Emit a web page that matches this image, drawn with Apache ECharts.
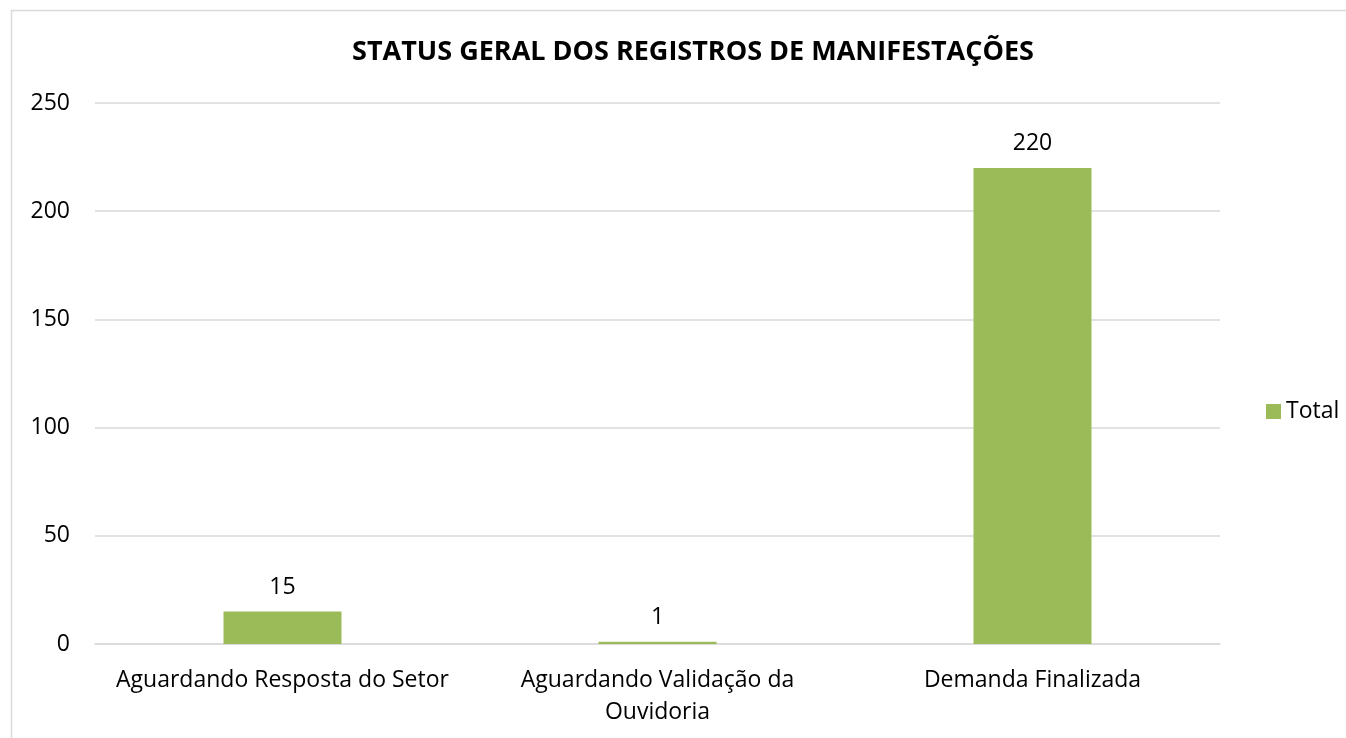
<!DOCTYPE html>
<html>
<head>
<meta charset="utf-8">
<script src="https://cdn.jsdelivr.net/npm/echarts@6/dist/echarts.min.js"></script>
<style>
  html, body { margin: 0; padding: 0; background: #fff; }
  #chart { width: 1346px; height: 738px; }
</style>
</head>
<body>
<div id="chart"></div>
<script>
// Data
const categories = ['Aguardando Resposta do Setor', 'Aguardando Validação da\nOuvidoria', 'Demanda Finalizada']
const totals = [15, 1, 220]
const yTicks = [0, 50, 100, 150, 200, 250]

const COLOR_BAR = '#9BBB59'
const COLOR_GRID = '#D9D9D9'
const FONT = '"Open Sans", "Noto Sans", sans-serif'

const chart = echarts.init(document.getElementById('chart'))

chart.setOption({
  animation: false,
  title: {
    text: 'STATUS GERAL DOS REGISTROS DE MANIFESTAÇÕES',
    left: 688,
    textAlign: 'center',
    top: 34,
    textStyle: { fontFamily: FONT, fontSize: 27, fontWeight: 'bold', color: '#000' },
  },
  graphic: [
    {
      type: 'rect',
      shape: { x: 11.5, y: 10.5, width: 1400, height: 800 },
      style: { fill: 'none', stroke: COLOR_GRID, lineWidth: 1.5 },
      silent: true,
    },
  ],
  legend: {
    data: ['Total'],
    orient: 'vertical',
    left: 1261,
    top: 395,
    itemWidth: 15,
    itemHeight: 15,
    itemGap: 6,
    icon: 'rect',
    textStyle: { fontFamily: FONT, fontSize: 23, color: '#000' },
  },
  grid: { left: 95, right: 126, top: 103, bottom: 94 },
  xAxis: {
    type: 'category',
    data: categories,
    axisLine: { show: true, lineStyle: { color: COLOR_GRID, width: 1.5 } },
    axisTick: { show: false },
    axisLabel: {
      fontFamily: FONT,
      fontSize: 23,
      color: '#000',
      margin: 20,
      lineHeight: 32,
      interval: 0,
    },
  },
  yAxis: {
    type: 'value',
    min: yTicks[0],
    max: yTicks[yTicks.length - 1],
    interval: 50,
    axisLine: { show: false },
    axisTick: { show: false },
    axisLabel: { fontFamily: FONT, fontSize: 23, color: '#000', margin: 25 },
    splitLine: { lineStyle: { color: COLOR_GRID, width: 1.5 } },
  },
  series: [
    {
      name: 'Total',
      type: 'bar',
      data: totals,
      barWidth: 118,
      itemStyle: { color: COLOR_BAR },
      label: {
        show: true,
        position: 'top',
        distance: 13,
        fontFamily: FONT,
        fontSize: 23,
        color: '#000',
      },
    },
  ],
})
</script>
</body>
</html>
